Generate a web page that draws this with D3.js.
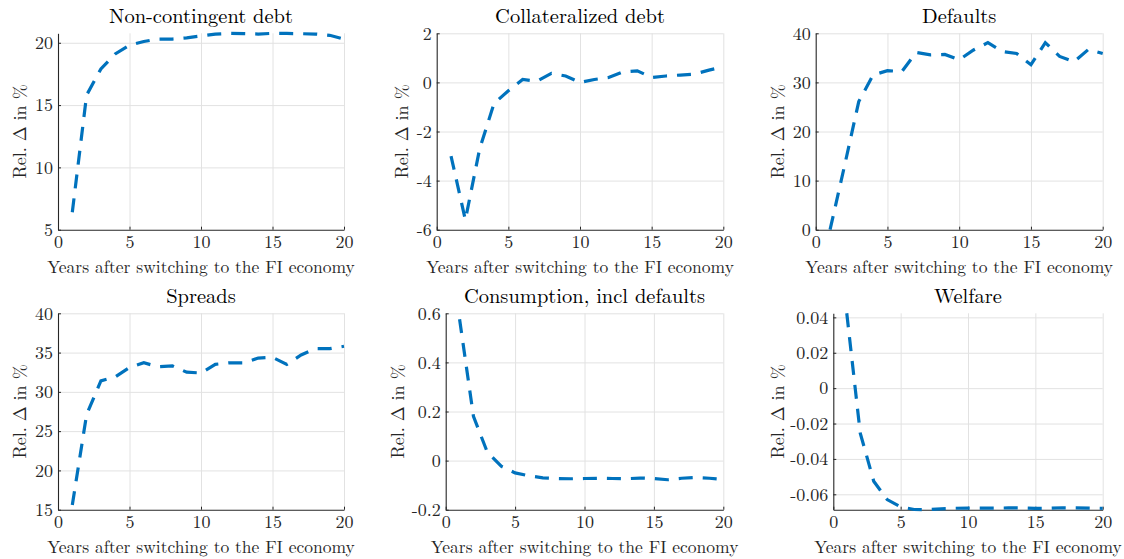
<!DOCTYPE html>
<html>
<head>
<meta charset="utf-8">
<script src="https://cdn.jsdelivr.net/npm/d3@7"></script>
<style>
  body { margin: 0; background: #fff; }
</style>
</head>
<body>
<svg id="chart" width="1124" height="559"></svg>
<script>
// data
var years = [1,2,3,4,5,6,7,8,9,10,11,12,13,14,15,16,17,18,19,20];
var titles = ["Non-contingent debt", "Collateralized debt", "Defaults",
              "Spreads", "Consumption, incl defaults", "Welfare"];
var nonContingentDebt = [6.4, 15.8, 17.9, 19.1, 19.8, 20.1, 20.3, 20.3, 20.4, 20.55,
                         20.7, 20.75, 20.73, 20.7, 20.76, 20.75, 20.73, 20.7, 20.6, 20.3];
var collateralizedDebt = [-3.0, -5.6, -2.7, -0.86, -0.34, 0.12, 0.05, 0.37, 0.26, 0.0,
                          0.12, 0.2, 0.43, 0.47, 0.2, 0.26, 0.3, 0.34, 0.5, 0.64];
var defaults = [0, 12.9, 26.1, 31.5, 32.4, 32.2, 36.1, 35.6, 35.7, 34.6,
                36.6, 38.1, 36.3, 35.9, 33.6, 38.1, 35.3, 34.2, 36.7, 35.9];
var spreads = [15.6, 27.1, 31.4, 31.9, 33.1, 33.7, 33.2, 33.3, 32.5, 32.4,
               33.5, 33.7, 33.7, 34.3, 34.4, 33.5, 34.7, 35.5, 35.5, 35.8];
var consumption = [0.576, 0.18, 0.034, -0.023, -0.05, -0.062, -0.07, -0.073, -0.074, -0.073,
                   -0.072, -0.073, -0.074, -0.071, -0.073, -0.078, -0.072, -0.069, -0.072, -0.076];
var welfare = [0.0423, -0.0254, -0.0526, -0.063, -0.0671, -0.0686, -0.0687, -0.0682, -0.0679, -0.0678,
               -0.0678, -0.0678, -0.0677, -0.0677, -0.0679, -0.0679, -0.0676, -0.0677, -0.0678, -0.0679];
var series = [nonContingentDebt, collateralizedDebt, defaults, spreads, consumption, welfare];

var yDomains = [[5, 20.76], [-6, 2], [0, 40], [15, 40], [-0.2, 0.6], [-0.0687, 0.0423]];
var yTickValues = [[5, 10, 15, 20], [-6, -4, -2, 0, 2], [0, 10, 20, 30, 40],
                   [15, 20, 25, 30, 35, 40], [-0.2, 0, 0.2, 0.4, 0.6],
                   [-0.06, -0.04, -0.02, 0, 0.02, 0.04]];
var xDomain = [0, 20];
var xTickValues = [0, 5, 10, 15, 20];
var xLabel = "Years after switching to the FI economy";
var yLabel = "Rel. \u0394 in %";

// panel boxes: left, right, top, bottom, x of the y label
var boxes = [
  [58, 344, 33.3, 229.7, 20],
  [436.7, 723.3, 33.3, 229.7, 402],
  [815.7, 1102.7, 33.3, 229.7, 778],
  [58, 344, 313.3, 509.7, 20],
  [445.7, 723.3, 313.3, 509.7, 398],
  [833.3, 1102.7, 313.3, 509.7, 778]
];

var svg = d3.select("#chart");
var axisColor = "#262626";
var serif = '"Latin Modern Roman", "CMU Serif", "Liberation Serif", "DejaVu Serif", "Noto Serif", "Tinos", "Times New Roman", "Nimbus Roman", "FreeSerif", Georgia, serif';

function draw_panel(i){
  var b = boxes[i];
  var w = b[1] - b[0], h = b[3] - b[2];
  var g = svg.append("g").attr("transform", "translate(" + b[0] + "," + b[2] + ")");

  var x = d3.scaleLinear().domain(xDomain).range([0, w]);
  var y = d3.scaleLinear().domain(yDomains[i]).range([h, 0]);

  // grid lines
  g.append("g")
    .attr("class", "grid")
    .attr("transform", "translate(0," + h + ")")
    .call(d3.axisBottom(x).tickValues(xTickValues.filter(d => d > 0)).tickSize(-h).tickFormat(""))
    .call(s => s.select(".domain").remove());
  g.append("g")
    .attr("class", "grid")
    .call(d3.axisLeft(y).tickValues(yTickValues[i].filter(d => y(d) < h - 0.5)).tickSize(-w).tickFormat(""))
    .call(s => s.select(".domain").remove());
  g.selectAll(".grid line").attr("stroke", "#e2e2e2").attr("stroke-width", 1);

  // axes with inward ticks
  var fmt = d => String(d);
  var xa = g.append("g")
    .attr("transform", "translate(0," + h + ")")
    .call(d3.axisBottom(x).tickValues(xTickValues).tickSizeInner(-3).tickSizeOuter(0).tickPadding(4).tickFormat(fmt));
  var ya = g.append("g")
    .call(d3.axisLeft(y).tickValues(yTickValues[i]).tickSizeInner(-3).tickSizeOuter(0).tickPadding(5).tickFormat(fmt));
  [xa, ya].forEach(function(a){
    a.attr("font-family", serif).attr("font-size", 18);
    a.select(".domain").attr("stroke", axisColor).attr("stroke-width", 1.1);
    a.selectAll(".tick line").attr("stroke", axisColor);
    a.selectAll(".tick text").attr("fill", axisColor);
  });
  xa.selectAll(".tick text").attr("dy", "0.8em");

  // the series
  var line = d3.line().x((d, k) => x(years[k])).y(d => y(d));
  g.append("path")
    .datum(series[i])
    .attr("d", line)
    .attr("fill", "none")
    .attr("stroke", "#0072BD")
    .attr("stroke-width", 3.2)
    .attr("stroke-dasharray", "14,10");

  // title
  g.append("text")
    .text(titles[i])
    .attr("x", w / 2)
    .attr("y", -10.5)
    .attr("text-anchor", "middle")
    .attr("fill", "#000")
    .attr("font-family", serif)
    .attr("font-size", 20.5);

  // x label
  g.append("text")
    .text(xLabel)
    .attr("x", w / 2)
    .attr("y", h + 43)
    .attr("text-anchor", "middle")
    .attr("fill", axisColor)
    .attr("font-family", serif)
    .attr("font-size", 17.5);

  // y label
  g.append("text")
    .text(yLabel)
    .attr("transform", "translate(" + (b[4] - b[0]) + "," + (h / 2) + ") rotate(-90)")
    .attr("text-anchor", "middle")
    .attr("dy", "0.35em")
    .attr("fill", axisColor)
    .attr("font-family", serif)
    .attr("font-size", 18);
}

titles.forEach(function(t, i){ draw_panel(i); });
</script>
</body>
</html>
